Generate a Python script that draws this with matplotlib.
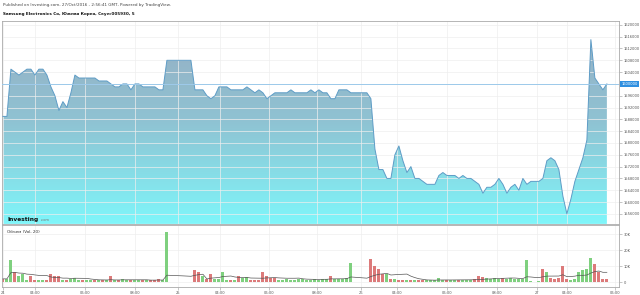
import numpy as np
import pandas as pd
import matplotlib
matplotlib.use('Agg')
import matplotlib.pyplot as plt
from matplotlib.colors import LinearSegmentedColormap

# 10-minute samples, price in KRW (thousands)
price_k = [
    1589, 1589, 1605, 1604, 1603, 1604, 1605, 1605, 1603, 1605,
    1605, 1603, 1599, 1596, 1591, 1594, 1592, 1597, 1603, 1602,
    1602, 1602, 1602, 1602, 1601, 1601, 1601, 1600, 1599, 1599,
    1600, 1600, 1598, 1600, 1600, 1599, 1599, 1599, 1599, 1598,
    1598, 1608, 1608, 1608, 1608, 1608, 1608, 1608, 1598, 1598,
    1598, 1596, 1595, 1596, 1599, 1599, 1599, 1598, 1598, 1598,
    1598, 1599, 1598, 1597, 1598, 1597, 1595, 1596, 1597, 1597,
    1597, 1597, 1598, 1597, 1597, 1597, 1597, 1598, 1597, 1598,
    1597, 1597, 1595, 1595, 1598, 1598, 1598, 1597, 1597, 1597,
    1597, 1597, 1595, 1578, 1571, 1571, 1568, 1568, 1576, 1579,
    1574, 1570, 1572, 1568, 1568, 1567, 1566, 1566, 1566, 1569,
    1570, 1569, 1569, 1569, 1568, 1569, 1568, 1568, 1567, 1566,
    1563, 1565, 1565, 1566, 1568, 1566, 1563, 1565, 1566, 1564,
    1568, 1566, 1567, 1567, 1567, 1568, 1574, 1575, 1574, 1571,
    1562, 1556, 1561, 1567, 1571, 1575, 1581, 1615, 1602, 1600,
    1598, 1600,
]

# volume in thousands of shares
volume_k = [
    2, 2, 13.7, 6.5, 4, 5, 1.5, 4, 1.5, 1.5,
    1.2, 1.5, 5, 3.5, 3.5, 1.5, 1.5, 2, 2.8, 1.2,
    1, 1, 1, 1, 1, 1, 1.2, 3.5, 1.5, 1,
    2, 1, 1.2, 1, 1, 1, 1, 1.5, 1.5, 1.8,
    1.5, 31.4, 0, 0, 0, 0, 0, 0, 7.5, 6,
    4, 2, 5, 2, 2, 6.3, 1.5, 1.5, 1.5, 3.5,
    2.5, 3, 1.5, 1.5, 1.2, 6.3, 3.5, 2.5, 2.5, 1.5,
    1.5, 2, 1.5, 1.5, 2, 1.8, 1.5, 1.5, 2, 1.5,
    2, 2, 4, 2, 2, 2, 2.5, 11.9, 0, 0,
    0, 0, 14.2, 10, 8, 5, 5, 2, 2, 1.5,
    1.2, 1, 1.2, 1, 1, 1, 1.5, 1, 1.5, 2.6,
    1.5, 1, 1, 1.5, 1, 1, 1.5, 1.5, 2, 4,
    3.3, 2.5, 2, 2.5, 2, 2.5, 2, 2.5, 2, 2,
    2, 13.7, 0.5, 0, 0.5, 8, 6, 2.5, 2, 2.5,
    10, 2, 1.5, 2, 6, 7.5, 8, 15, 11, 6,
    2, 2,
]

# g = up bar, r = down bar
vol_dir = ("rggrgggrrg" "grrrrgrggg" "rggrgrgrgr" "ggrggrgrrr" "ggggggggrr"
           "grrggggrgr" "ggrrrrrrrg" "gggggggggg" "ggrggggggg" "ggrrrrgrgr"
           "rgrgrrgggg" "grggrgggrr" "rggggrgggg" "gggggrgrrr" "rrggggggrr" "rr")

tick_pos = [0, 8, 20.5, 33, 43.75, 54.25, 66.5, 78.5, 89.5, 98.5, 111, 123.5, 133.5, 141, 153]
tick_labels = ['24', '04:00', '06:00', '08:00', '25', '04:00', '06:00', '08:00',
               '26', '04:00', '06:00', '08:00', '27', '04:00', '06:00']

last_price = 1600000

price = np.array(price_k) * 1000
volume = np.array(volume_k) * 1000
x = np.arange(len(price))
vol_ma = pd.Series(volume).rolling(10, min_periods=1).mean()

fig = plt.figure(figsize=(6.4, 2.95), dpi=100)
ax = fig.add_axes([0.003, 0.241, 0.964, 0.688])
axv = fig.add_axes([0.003, 0.027, 0.964, 0.21])

xlim = (-0.25, 154)
ylim = (1552600, 1621330)

# price area with vertical gradient
fill = ax.fill_between(x, price, ylim[0], color='none')
cmap = LinearSegmentedColormap.from_list('area', ['#7ff6fa', '#8fc3d3', '#97adc2'])
grad = np.linspace(0, 1, 256).reshape(-1, 1)
im = ax.imshow(grad, aspect='auto', cmap=cmap, origin='lower',
               extent=[xlim[0], xlim[1], ylim[0], ylim[1]], zorder=1)
im.set_clip_path(fill.get_paths()[0], transform=ax.transData)
ax.plot(x, price, color='#5e9cc6', lw=0.7, zorder=3)
ax.axhline(last_price, color='#9cc9ea', lw=0.7, zorder=4)

ax.set_xlim(xlim)
ax.set_ylim(ylim)
yt = np.arange(1556000, 1621000, 4000)
ax.set_yticks(yt)
# the last-price box takes the place of its own tick label
ax.set_yticklabels(['' if v == last_price else str(v) for v in yt])
ax.yaxis.tick_right()
ax.tick_params(axis='y', length=2, width=0.4, pad=1.5, labelsize=2.6, colors='#999999', labelcolor='#555555')
ax.set_xticks(tick_pos)
ax.tick_params(axis='x', length=0, labelbottom=False)
ax.grid(True, color='#eeeeee', lw=0.5, zorder=0)
for s in ax.spines.values():
    s.set_color('#aaaaaa')
    s.set_linewidth(0.6)

ax.text(1.004, last_price, str(last_price), transform=ax.get_yaxis_transform(),
        fontsize=2.6, color='white', va='center', ha='left',
        bbox=dict(boxstyle='square,pad=0.25', fc='#2f8fe0', ec='none'))

ax.text(0.009, 0.015, 'Investing', transform=ax.transAxes, fontsize=4.2,
        fontweight='bold', color='#111111', zorder=5)
ax.text(0.062, 0.015, '.com', transform=ax.transAxes, fontsize=2.6,
        color='#777777', zorder=5)

# volume panel
colors = ['#7fd07f' if d == 'g' else '#dc7a7a' for d in vol_dir]
axv.bar(x, volume, width=0.75, color=colors, zorder=2)
axv.plot(x, vol_ma, color='#555555', lw=0.5, zorder=3)
axv.set_xlim(xlim)
axv.set_ylim(-3100, 35600)
axv.set_yticks([0, 10000, 20000, 30000])
axv.set_yticklabels(['0', '10K', '20K', '30K'])
axv.yaxis.tick_right()
axv.tick_params(axis='y', length=2, width=0.4, pad=1.5, labelsize=2.6, colors='#999999', labelcolor='#555555')
axv.set_xticks(tick_pos)
axv.set_xticklabels(tick_labels)
axv.tick_params(axis='x', length=2, width=0.4, pad=1, labelsize=2.6, colors='#999999', labelcolor='#555555')
axv.grid(True, color='#eeeeee', lw=0.5, zorder=0)
for s in axv.spines.values():
    s.set_color('#aaaaaa')
    s.set_linewidth(0.6)
axv.text(0.008, 0.87, 'Объем (Vol, 20)', transform=axv.transAxes, fontsize=3,
         color='#333333')

fig.text(0.005, 0.983, 'Published on Investing.com, 27/Oct/2016 - 2:56:41 GMT, Powered by TradingView.',
         fontsize=3, color='#444444', va='center')
fig.text(0.005, 0.953, 'Samsung Electronics Co, Южная Корея, Сеул:005930, 5',
         fontsize=3, fontweight='bold', color='#111111', va='center')

fig.savefig('out.png', dpi=100, facecolor='white')
